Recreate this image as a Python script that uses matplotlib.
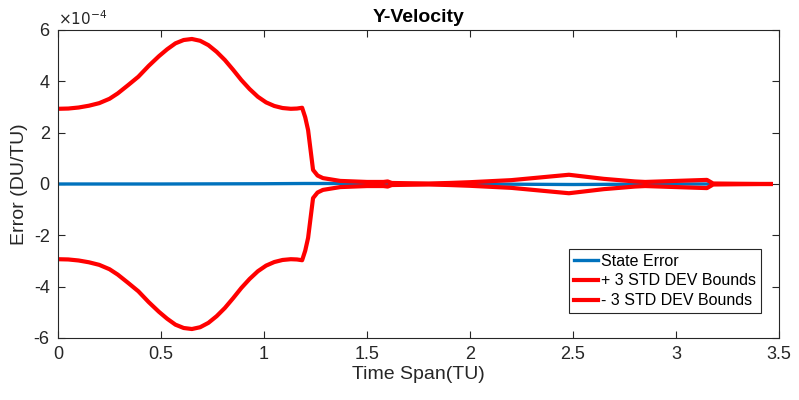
import numpy as np
import matplotlib.pyplot as plt

plt.rcParams['font.family'] = ['Liberation Sans', 'DejaVu Sans']

# time points (TU) and +3 sigma bound (x1e-4 DU/TU)
t_bound = [0, 0.05, 0.1, 0.15, 0.2, 0.25, 0.29, 0.34, 0.39, 0.44, 0.49, 0.53,
           0.57, 0.61, 0.65, 0.69, 0.73, 0.77, 0.81, 0.85, 0.89, 0.93, 0.97,
           1.01, 1.05, 1.09, 1.13, 1.16, 1.185, 1.2, 1.214, 1.238, 1.26, 1.286,
           1.37, 1.5, 1.58, 1.6, 1.62, 1.7, 1.8, 1.9, 2.0, 2.2, 2.48, 2.65,
           2.8, 2.85, 3.0, 3.15, 3.18, 3.3, 3.46]
upper = [2.93, 2.94, 2.98, 3.05, 3.15, 3.32, 3.53, 3.85, 4.18, 4.6, 4.98, 5.25,
         5.48, 5.61, 5.65, 5.58, 5.41, 5.15, 4.83, 4.45, 4.05, 3.7, 3.4,
         3.18, 3.04, 2.96, 2.93, 2.94, 2.97, 2.6, 2.1, 0.55, 0.33, 0.23,
         0.12, 0.08, 0.08, 0.1, 0.04, 0.03, 0.02, 0.04, 0.07, 0.15, 0.36, 0.2,
         0.1, 0.08, 0.12, 0.16, 0.02, 0.01, 0.0]
lower = [-v for v in upper]

# state error, essentially zero throughout
t_err = [0, 0.5, 1.0, 1.2, 1.4, 1.6, 2.0, 2.5, 3.0, 3.46]
err = [0.0, 0.0, 0.01, 0.02, 0.02, 0.01, 0.0, -0.02, 0.0, 0.0]

scale = 1e-4

fig = plt.figure(figsize=(7.99, 4.0), dpi=100)
ax = fig.add_axes([0.0726, 0.155, 0.9024, 0.77])

ax.plot(t_err, np.array(err) * scale, color='#0072BD', lw=2.4,
        solid_joinstyle='round', label='State Error')
ax.plot(t_bound, np.array(upper) * scale, color='#FF0000', lw=3,
        solid_joinstyle='round', label='+ 3 STD DEV Bounds')
ax.plot(t_bound, np.array(lower) * scale, color='#FF0000', lw=3,
        solid_joinstyle='round', label='- 3 STD DEV Bounds')

ax.set_xlim(0, 3.5)
ax.set_ylim(-6e-4, 6e-4)
ax.set_xticks(np.arange(0, 3.51, 0.5))
ax.set_xticklabels(['0', '0.5', '1', '1.5', '2', '2.5', '3', '3.5'])
ax.set_yticks(np.arange(-6, 7, 2) * scale)
ax.set_yticklabels(['-6', '-4', '-2', '0', '2', '4', '6'])

ax.tick_params(direction='in', top=True, right=True, length=5, width=0.8,
               colors='#262626', labelsize=13, pad=6)
for s in ax.spines.values():
    s.set_color('#262626')
    s.set_linewidth(0.8)

ax.text(0, 1.008, r'$\times10^{-4}$', transform=ax.transAxes, fontsize=11,
        color='#262626', va='bottom', ha='left')

ax.set_title('Y-Velocity', fontsize=14, fontweight='bold', pad=6)
ax.set_xlabel('Time Span(TU)', fontsize=14, color='#262626', labelpad=2)
ax.set_ylabel('Error (DU/TU)', fontsize=14, color='#262626', labelpad=4)

leg = ax.legend(loc='lower right', bbox_to_anchor=(0.975, 0.081), fontsize=11.5,
                handlelength=1.5, handletextpad=0.2, borderpad=0.3,
                borderaxespad=0, labelspacing=0.3, fancybox=False, framealpha=1)
leg.get_frame().set_edgecolor('#262626')
leg.get_frame().set_linewidth(0.8)

fig.savefig('out.png', dpi=100)
